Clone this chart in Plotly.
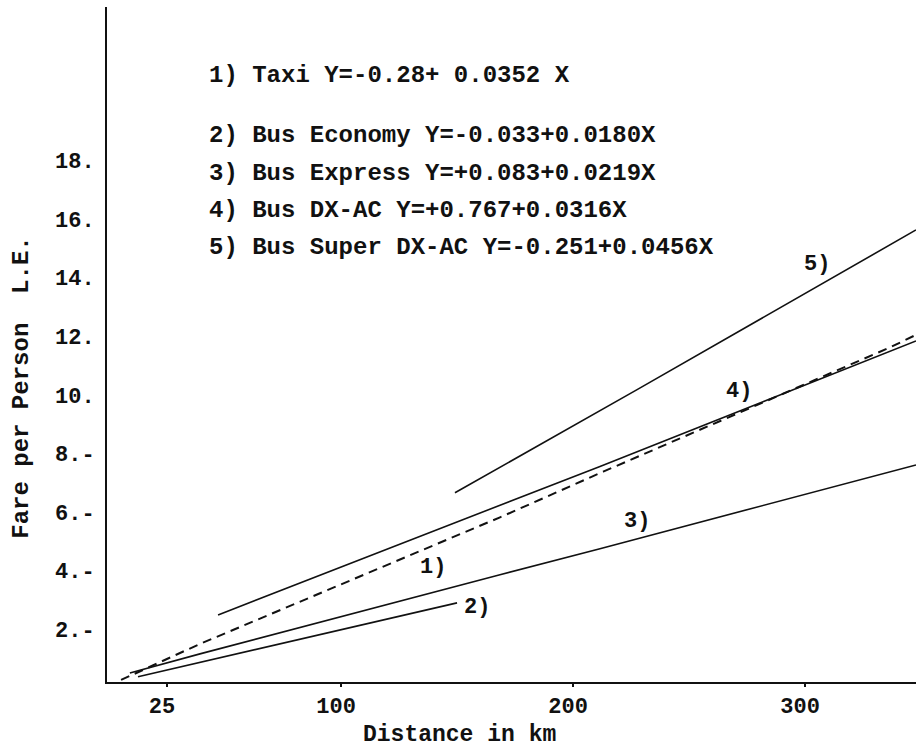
import plotly.graph_objects as go

# ---- data (distance km, fare L.E.) ----
taxi_km = [5.2, 39.2, 168.5, 213.0, 336.6, 347.8]
taxi_fare = [0.27, 1.50, 5.82, 7.38, 11.62, 12.05]

economy_km = [12.5, 39.2, 150.0]
economy_fare = [0.38, 0.87, 2.90]

express_km = [9.0, 39.2, 168.5, 211.6, 347.8]
express_fare = [0.51, 1.16, 3.86, 4.75, 7.61]

dxac_km = [47.0, 211.6, 347.8]
dxac_fare = [2.49, 7.56, 11.84]

super_km = [149.1, 227.6, 347.8]
super_fare = [6.66, 10.18, 15.63]

line_labels = ["1)", "2)", "3)", "4)", "5)"]
label_km = [139.7, 158.6, 227.6, 271.6, 305.2]
label_fare = [4.10, 2.73, 5.67, 10.10, 14.44]

equations = [
    "1) Taxi Y=-0.28+ 0.0352 X",
    "2) Bus Economy Y=-0.033+0.0180X",
    "3) Bus Express Y=+0.083+0.0219X",
    "4) Bus DX-AC Y=+0.767+0.0316X",
    "5) Bus Super DX-AC Y=-0.251+0.0456X",
]

x_tickvals = [25, 100, 200, 300]
x_ticktext = ["25", "100", "200", "300"]
y_tickvals = [2, 4, 6, 8, 10, 12, 14, 16, 18]
y_ticktext = ["2.-", "4.-", "6.-", "8.-", "10.", "12.", "14.", "16.", "18."]

FONT = "Liberation Mono"
INK = "#111111"
WEIGHT = 600

fig = go.Figure()
series = [
    (taxi_km, taxi_fare, "dash"),
    (economy_km, economy_fare, "solid"),
    (express_km, express_fare, "solid"),
    (dxac_km, dxac_fare, "solid"),
    (super_km, super_fare, "solid"),
]
for xs, ys, dash in series:
    fig.add_trace(go.Scatter(
        x=xs, y=ys, mode="lines",
        line=dict(color=INK, width=2.0 if dash == "dash" else 1.6,
                  dash="9px,6px" if dash == "dash" else "solid"),
        hoverinfo="skip",
    ))

annotations = []
for t, xv, yv in zip(line_labels, label_km, label_fare):
    annotations.append(dict(x=xv, y=yv, xref="x", yref="y", text=t,
                            showarrow=False,
                            font=dict(family=FONT, size=22, color=INK, weight=WEIGHT)))

eq_y = [0.898, 0.809, 0.754, 0.699, 0.643]
for t, yy in zip(equations, eq_y):
    annotations.append(dict(x=0.1236, y=yy, xref="paper", yref="paper", text=t,
                            xanchor="left", yanchor="middle", showarrow=False,
                            font=dict(family=FONT, size=24, color=INK, weight=WEIGHT)))

annotations.append(dict(x=0.436, y=-0.0785, xref="paper", yref="paper",
                        text="Distance in km", showarrow=False,
                        xanchor="center", yanchor="middle",
                        font=dict(family=FONT, size=23, color=INK, weight=WEIGHT)))
annotations.append(dict(x=-0.105, y=0.436, xref="paper", yref="paper",
                        text="Fare per Person\u00a0 L.E.", showarrow=False,
                        textangle=-90, xanchor="center", yanchor="middle",
                        font=dict(family=FONT, size=24, color=INK, weight=WEIGHT)))

fig.update_layout(
    width=916, height=749,
    margin=dict(l=107, r=0, t=7, b=67),
    paper_bgcolor="white", plot_bgcolor="white",
    showlegend=False,
    hovermode=False,
    annotations=annotations,
    xaxis=dict(range=[-0.86, 347.8], showgrid=False, zeroline=False,
               showline=True, linecolor=INK, linewidth=2,
               tickvals=x_tickvals, ticktext=x_ticktext,
               ticks="outside", ticklen=3, tickwidth=1.5, tickcolor=INK,
               ticklabelshift=-5,
               tickfont=dict(family=FONT, size=22, color=INK, weight=WEIGHT)),
    yaxis=dict(range=[0.2, 23.24], showgrid=False, zeroline=False,
               showline=True, linecolor=INK, linewidth=2,
               tickvals=y_tickvals, ticktext=y_ticktext,
               ticks="", ticklabelstandoff=6,
               tickfont=dict(family=FONT, size=22, color=INK, weight=WEIGHT)),
)

fig.write_html("out.html",
               config={"displayModeBar": False, "staticPlot": True},
               post_script="document.body.style.margin='0';document.body.style.overflow='hidden';")
